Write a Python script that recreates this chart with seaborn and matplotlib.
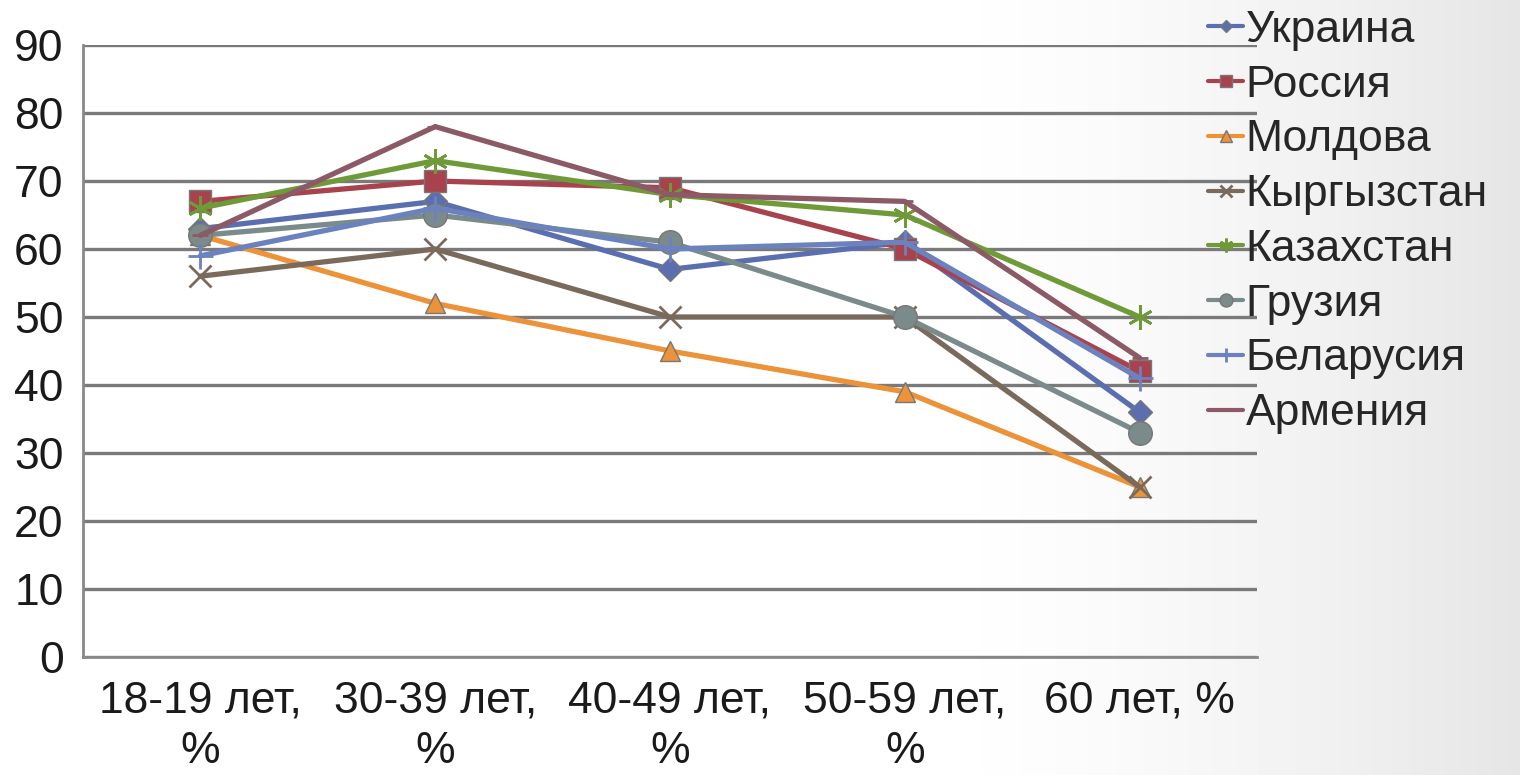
import numpy as np
import pandas as pd
import matplotlib
matplotlib.use('Agg')
import matplotlib.pyplot as plt
import seaborn as sns

# Age groups (x axis)
age_groups = ['18-19 лет,\n%', '30-39 лет,\n%', '40-49 лет,\n%', '50-59 лет,\n%', '60 лет, %']

# Values per country
countries = ['Украина', 'Россия', 'Молдова', 'Кыргызстан', 'Казахстан', 'Грузия', 'Беларусия', 'Армения']
ukraine = [63, 67, 57, 61, 36]
russia = [67, 70, 69, 60, 42]
moldova = [62, 52, 45, 39, 25]
kyrgyzstan = [56, 60, 50, 50, 25]
kazakhstan = [66, 73, 68, 65, 50]
georgia = [62, 65, 61, 50, 33]
belarus = [59, 66, 60, 61, 41]
armenia = [62, 78, 68, 67, 44]
series = [ukraine, russia, moldova, kyrgyzstan, kazakhstan, georgia, belarus, armenia]

colors = ['#5A6EB0', '#A8434E', '#EC9238', '#7A6A5C', '#6F9A38', '#7B8A8A', '#6C82BE', '#8C5A66']
markers = ['D', 's', '^', 'x', (6, 2, 0), 'o', '+', '_']
msizes = [12, 16, 15, 16, 18, 17, 18, 12]

rows = []
for name, vals in zip(countries, series):
    for i, v in enumerate(vals):
        rows.append({'country': name, 'pos': i, 'value': v})
df = pd.DataFrame(rows)

sns.set_style('white')
plt.rcParams['font.family'] = ['Liberation Sans', 'DejaVu Sans']

fig = plt.figure(figsize=(15.2, 7.75), dpi=100)

# light gray gradient on the right side of the background
bg = fig.add_axes([0, 0, 1, 1], zorder=-10)
grad = np.linspace(0, 1, 400)
grad = np.clip((grad - 0.6) / 0.4, 0, 1) ** 1.5
bg.imshow(1 - 0.1 * grad[np.newaxis, :], cmap='gray', vmin=0, vmax=1,
          aspect='auto', extent=[0, 1, 0, 1])
bg.axis('off')

ax = fig.add_axes([83 / 1520, 1 - 657 / 775, (1257 - 83) / 1520, (657 - 45) / 775])
ax.patch.set_alpha(0)

for i, name in enumerate(countries):
    sub = df[df['country'] == name]
    mk = markers[i]
    unfilled = mk in ('x', '+', '_') or isinstance(mk, tuple)
    sns.lineplot(data=sub, x='pos', y='value', ax=ax, color=colors[i], lw=3.8,
                 marker=mk, markersize=msizes[i],
                 markeredgewidth=2 if unfilled else 1,
                 markeredgecolor=colors[i] if unfilled else '#777777',
                 label=name, zorder=3 + i)

ax.set_xlim(-0.5, 4.5)
ax.set_ylim(0, 90)
ax.set_yticks(range(0, 91, 10))
ax.set_xticks(np.arange(-0.5, 4.6, 1))
ax.set_xticklabels([])
ax.set_xticks(range(5), minor=True)
ax.set_xticklabels(age_groups, minor=True)
ax.tick_params(axis='x', which='minor', length=0, pad=17, labelsize=32, labelcolor='#1a1a1a')
ax.tick_params(axis='x', which='major', length=9, width=2, color='#888888', direction='out')
ax.tick_params(axis='y', length=10, width=2, color='#888888', direction='out', pad=4,
               labelsize=32, labelcolor='#1a1a1a')
for lab in ax.get_xticklabels(minor=True):
    lab.set_linespacing(1.3)

ax.grid(axis='y', color='#7a7a7a', lw=2.4)
ax.set_axisbelow(True)
for s in ['top', 'right']:
    ax.spines[s].set_visible(False)
for s in ['left', 'bottom']:
    ax.spines[s].set_color('#888888')
    ax.spines[s].set_linewidth(2)
ax.set_xlabel('')
ax.set_ylabel('')

handles, labels = ax.get_legend_handles_labels()
ax.get_legend().remove()
leg = fig.legend(handles, labels, loc='upper left', bbox_to_anchor=(1190 / 1520, 1 + 8 / 775),
                 frameon=False, fontsize=32, handlelength=0.8, handletextpad=0.05,
                 labelspacing=0.31, markerscale=0.55, borderaxespad=0)
for h in leg.legend_handles:
    h.set_linewidth(3)

fig.savefig('out.png', dpi=100)
